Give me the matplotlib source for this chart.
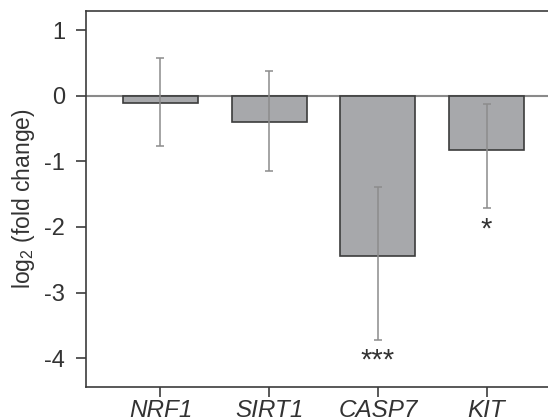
import matplotlib
matplotlib.use("Agg")
import matplotlib.pyplot as plt

plt.rcParams['font.family'] = ['Liberation Sans', 'DejaVu Sans']
plt.rcParams['mathtext.fontset'] = 'custom'
plt.rcParams['mathtext.rm'] = 'Liberation Sans'
plt.rcParams['mathtext.it'] = 'Liberation Sans:italic'
plt.rcParams['axes.unicode_minus'] = False

# data
genes = ["NRF1", "SIRT1", "CASP7", "KIT"]
log2_fc = [-0.11, -0.40, -2.45, -0.83]
err_low = [0.66, 0.75, 1.28, 0.88]
err_high = [0.69, 0.77, 1.06, 0.70]
stars = ["", "", "***", "*"]
star_y = [0, 0, -4.03, -2.04]

text_col = "#333333"
spine_col = "#3c3c3c"

fig = plt.figure(figsize=(5.48, 4.2), dpi=100)
ax = fig.add_axes([0.157, 0.0786, 0.85, 0.895])

x = list(range(len(genes)))
ax.axhline(0, color="#8a8a8a", lw=1.5, zorder=1)
ax.bar(x, log2_fc, width=0.69, color="#a7a8ab", edgecolor=spine_col, lw=1.2, zorder=2)
ax.errorbar(x, log2_fc, yerr=[err_low, err_high], fmt="none", ecolor="#8c8c8c",
            elinewidth=1.1, capsize=3, capthick=1.1, zorder=3)

for xi, s, yy in zip(x, stars, star_y):
    if s:
        ax.text(xi, yy, s, ha="center", va="center", fontsize=21, color=text_col)

ax.set_xlim(-0.685, 3.6)
ax.set_ylim(-4.44, 1.29)
ax.set_yticks([1, 0, -1, -2, -3, -4])
ax.set_xticks(x)
ax.set_xticklabels(genes, fontstyle="italic")
ax.tick_params(axis="both", direction="out", length=7, width=1.2, color=spine_col,
               labelsize=17, labelcolor=text_col)
ax.tick_params(axis="y", pad=8)
ax.tick_params(axis="x", pad=2, labelsize=17.5)
ax.set_ylabel(r"log$_2$ (fold change)", fontsize=16.5, color=text_col, labelpad=5)

ax.spines["right"].set_visible(False)
for side in ["left", "bottom", "top"]:
    ax.spines[side].set_color(spine_col)
    ax.spines[side].set_linewidth(1.2)

fig.savefig("out.png", dpi=100)
